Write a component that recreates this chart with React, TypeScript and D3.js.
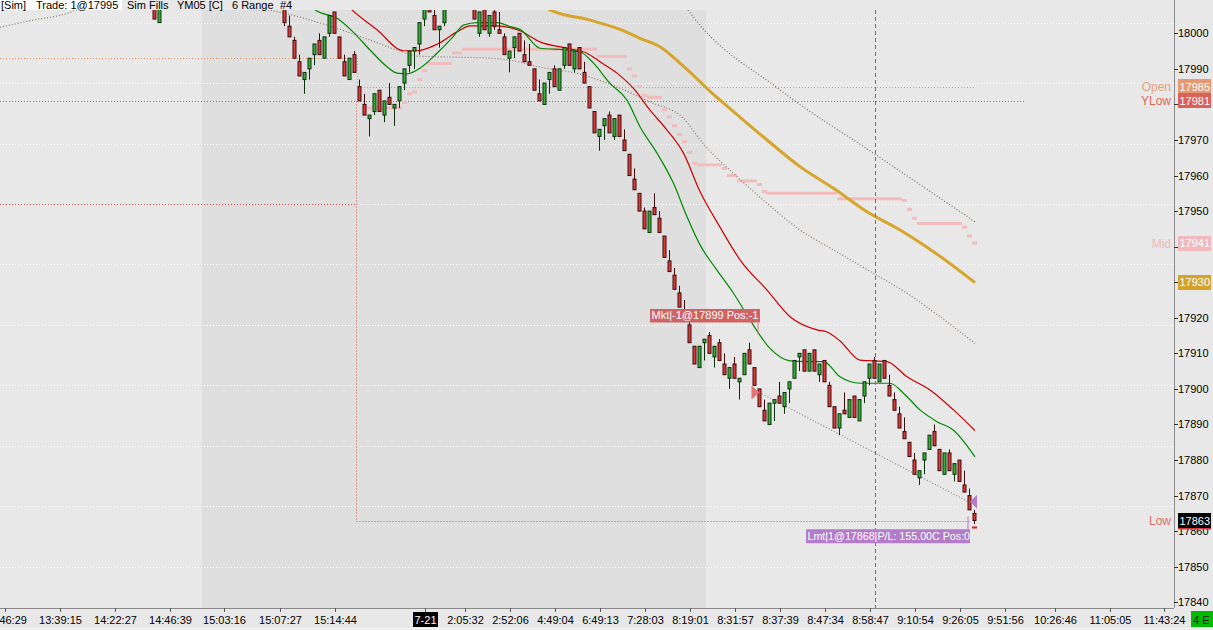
import React from 'react';
import * as d3 from 'd3';

// ---- data (bar index, OHLC) ----
const barIndex = [-26, -25, ...d3.range(0, 139)];
const opens = [18009, 18003,
  18007, 18002, 17998, 17992, 17987, 17990, 17994, 17998, 17993, 18000,
  18006, 17999, 17992, 17987, 17994, 17985, 17980, 17976, 17978, 17984,
  17977, 17982, 17979, 17981, 17986, 17991, 17995, 17997, 18004, 18009,
  18005, 18001, 18003, 18009, 18015, 18017, 18014, 18019, 18010, 18000,
  18007, 18000, 18006, 18001, 17999, 17993, 17996, 18000, 17994, 17992,
  17990, 17983, 17980, 17987, 17990, 17984, 17991, 17997, 17990, 17996,
  17989, 17985, 17978, 17971, 17974, 17977, 17971, 17977, 17970, 17966,
  17959, 17955, 17950, 17944, 17951, 17948, 17943, 17936, 17932, 17927,
  17922, 17918, 17912, 17906, 17913, 17915, 17909, 17913, 17907, 17903,
  17907, 17902, 17904, 17911, 17906, 17900, 17894, 17890, 17896, 17898,
  17895, 17900, 17903, 17909, 17911, 17905, 17911, 17904, 17908, 17901,
  17895, 17889, 17894, 17892, 17898, 17891, 17898, 17903, 17908, 17902,
  17908, 17901, 17897, 17893, 17888, 17885, 17880, 17875, 17880, 17883,
  17888, 17883, 17876, 17882, 17876, 17880, 17873, 17870, 17865];
const highs = [18010, 18009,
  18008, 18005, 17999, 17994, 17989, 17993, 17997, 18000, 17999, 18005,
  18006, 17999, 17994, 17993, 17995, 17987, 17983, 17977, 17983, 17984,
  17981, 17986, 17980, 17985, 17990, 17995, 17996, 18003, 18008, 18012,
  18007, 18002, 18008, 18014, 18018, 18018, 18020, 18019, 18011, 18006,
  18007, 18005, 18007, 18006, 18000, 17995, 17999, 18000, 17998, 17997,
  17990, 17987, 17986, 17989, 17991, 17990, 17996, 17997, 17995, 17996,
  17992, 17985, 17978, 17973, 17976, 17978, 17976, 17977, 17973, 17966,
  17962, 17955, 17951, 17950, 17955, 17950, 17943, 17939, 17934, 17929,
  17925, 17919, 17912, 17912, 17914, 17916, 17912, 17914, 17910, 17906,
  17909, 17903, 17910, 17913, 17906, 17900, 17897, 17896, 17897, 17902,
  17899, 17902, 17908, 17910, 17911, 17910, 17911, 17907, 17908, 17902,
  17895, 17893, 17899, 17897, 17898, 17897, 17902, 17907, 17909, 17907,
  17908, 17904, 17899, 17895, 17892, 17885, 17882, 17877, 17882, 17887,
  17890, 17883, 17882, 17883, 17879, 17880, 17877, 17872, 17866];
const lows = [18004, 18003,
  18002, 17999, 17993, 17988, 17983, 17987, 17991, 17994, 17993, 17999,
  18000, 17993, 17988, 17987, 17989, 17981, 17977, 17971, 17977, 17978,
  17975, 17980, 17974, 17979, 17984, 17989, 17990, 17994, 18002, 18006,
  18001, 17996, 18002, 18008, 18012, 18012, 18014, 18011, 18004, 17999,
  18001, 17999, 18001, 18000, 17994, 17989, 17993, 17995, 17992, 17991,
  17984, 17981, 17980, 17983, 17985, 17984, 17990, 17991, 17989, 17990,
  17986, 17979, 17972, 17967, 17970, 17972, 17970, 17971, 17967, 17960,
  17956, 17950, 17945, 17944, 17949, 17944, 17937, 17933, 17928, 17923,
  17919, 17913, 17907, 17906, 17908, 17910, 17906, 17908, 17904, 17900,
  17903, 17897, 17904, 17907, 17901, 17895, 17891, 17890, 17891, 17896,
  17893, 17896, 17903, 17905, 17905, 17905, 17905, 17902, 17902, 17895,
  17889, 17887, 17893, 17892, 17892, 17891, 17896, 17901, 17903, 17902,
  17903, 17898, 17894, 17889, 17886, 17881, 17876, 17873, 17876, 17883,
  17884, 17877, 17876, 17877, 17874, 17874, 17871, 17866, 17862];
const closes = [18004, 18009,
  18003, 17999, 17993, 17988, 17989, 17993, 17997, 17994, 17999, 18005,
  18000, 17993, 17988, 17993, 17989, 17981, 17977, 17977, 17983, 17978,
  17981, 17980, 17980, 17985, 17990, 17995, 17996, 18003, 18008, 18006,
  18001, 18002, 18008, 18014, 18018, 18012, 18020, 18011, 18004, 18006,
  18001, 18005, 18002, 18000, 17994, 17995, 17999, 17995, 17992, 17991,
  17984, 17981, 17986, 17989, 17985, 17990, 17996, 17991, 17995, 17990,
  17986, 17979, 17972, 17973, 17976, 17972, 17976, 17971, 17967, 17960,
  17956, 17950, 17945, 17950, 17949, 17944, 17937, 17933, 17928, 17923,
  17919, 17913, 17907, 17912, 17914, 17910, 17912, 17908, 17904, 17906,
  17903, 17903, 17910, 17907, 17901, 17895, 17891, 17896, 17897, 17896,
  17899, 17902, 17908, 17910, 17905, 17910, 17905, 17907, 17902, 17895,
  17889, 17893, 17893, 17897, 17892, 17897, 17902, 17907, 17903, 17907,
  17903, 17898, 17894, 17889, 17886, 17881, 17876, 17877, 17882, 17887,
  17884, 17877, 17882, 17877, 17879, 17874, 17871, 17866, 17863];

// indicator lines: [bar, price]
const fastAvg: [number, number][] = [[5.5, 18008], [6.1, 18006.6], [10.5, 18004.2], [13.7, 18000.4], [17.1, 17995.3], [20.5, 17990.6], [22.5, 17988.8], [24.5, 17988.6], [27.1, 17990.2], [30.5, 17994.4], [33.7, 17999], [35.8, 18002.3], [38.5, 18003], [42.5, 18003], [45.1, 18001.9], [47.1, 18001.1], [51.1, 17995.8], [56.5, 17995.3], [59.1, 17994.8], [61.8, 17991.6], [65.1, 17985.9], [68.5, 17981.2], [71.1, 17973.7], [74.5, 17966.3], [77.8, 17957.8], [80.5, 17948.4], [83.1, 17940.5], [86.5, 17933.4], [89.8, 17926.9], [93.1, 17919.4], [97.1, 17911.4], [101.1, 17907.9], [104.5, 17907.7], [107.8, 17907.7], [111.1, 17903.4], [115.1, 17901.6], [121.1, 17901.6], [123.8, 17898.8], [127.1, 17894.1], [130.5, 17890.8], [133.8, 17888.4], [138.1, 17880.9]];
const slowAvg: [number, number][] = [[12.5, 18008], [13.5, 18006.6], [18.5, 18001], [23.8, 17995.1], [26.5, 17995.1], [30.5, 17996.9], [34.5, 18000.4], [37.1, 18002.1], [42.5, 18002.1], [47.1, 18000.7], [51.1, 17997.6], [56.5, 17995.8], [60.5, 17994.4], [63.1, 17992], [66.5, 17988.8], [69.8, 17984.5], [73.1, 17978.4], [76.5, 17972.8], [79.8, 17966.3], [83.1, 17955.5], [87.1, 17945.5], [91.1, 17936.3], [96.5, 17927.8], [101.1, 17920.3], [106.5, 17916.6], [108.5, 17916], [111.1, 17913.5], [115.1, 17908.1], [120.5, 17907.7], [124.5, 17903.4], [129.1, 17899.7], [133.8, 17894.1], [138.1, 17888.3]];
const goldAvg: [number, number][] = [[52, 18008], [53.1, 18006.6], [61.1, 18003.7], [67.5, 18000.9], [71.1, 17998.6], [75.1, 17996.2], [79.1, 17991.6], [83.1, 17986.4], [84.8, 17984.1], [89.8, 17978], [96.5, 17970], [103.1, 17962.5], [109.8, 17956.4], [116.5, 17949.8], [123.1, 17944.7], [129.8, 17938.6], [138.1, 17929.9]];
const midBand: [number, number][] = [[-56.9, 18001.7], [-50.3, 18003.7], [-43.5, 18005.6], [-41.5, 18006.6], [-38, 18007.2], [-14, 18006.8], [-4, 18006.6], [-0.3, 18005.7], [7.1, 18002.9], [17.1, 17998.1], [23.7, 17994.7], [26.5, 17993.6], [33.7, 17993.3], [39.7, 17993.1], [47.1, 17991.9], [49.1, 17991.1], [59.7, 17988.3], [66.5, 17984.9], [73.1, 17980.7], [79.7, 17976.2], [84, 17968.5], [86.5, 17964.9], [89.8, 17960.6], [96.5, 17952.2], [103.1, 17944.7], [109.8, 17939.1], [117.8, 17932.5], [124.5, 17926.9], [131.1, 17920.3], [138.1, 17912.8]];
const upperBand: [number, number][] = [[80, 18008], [80.7, 18006.6], [99.1, 17984.1], [117.8, 17966.3], [138.1, 17947]];
const tradeLine: [number, number][] = [[95, 17899], [137.1, 17868]];

// session mid steps: [fromBar, toBar, price]
const midSteps: [number, number, number][] = [[16, 23, 17979], [24, 24, 17980.5], [25, 25, 17983], [26, 26, 17983.5], [27, 27, 17987], [28, 28, 17989.5], [29, 33, 17991.5], [34, 35, 17994.5], [36, 62, 17995.5], [63, 68, 17993.5], [69, 69, 17990], [70, 70, 17988], [71, 71, 17985], [72, 72, 17982.5], [73, 75, 17982], [76, 76, 17978.5], [77, 77, 17976.5], [78, 78, 17974], [79, 79, 17971.5], [80, 80, 17969.5], [81, 81, 17966.5], [82, 82, 17963.5], [83, 87, 17963], [88, 88, 17962], [89, 90, 17960], [91, 94, 17958.5], [95, 95, 17957.5], [96, 96, 17955.5], [97, 110, 17955], [111, 123, 17953.5], [124, 124, 17953], [125, 125, 17950.5], [126, 126, 17948], [127, 135, 17946.5], [136, 136, 17945.5], [137, 137, 17943], [138, 138, 17941]];

const gridLevels = [18003, 17986, 17969, 17952, 17935, 17918, 17901, 17884, 17867, 17850];
const priceTicks = [17840, 17850, 17860, 17870, 17880, 17890, 17900, 17910, 17920, 17930, 17940, 17950, 17960, 17970, 17980, 17990, 18000];
const timeTickBars = [-56, -45, -34, -23, -12, -1, 10, 28, 36, 45, 54, 63, 72, 81, 90, 99, 108, 117, 126, 135, 144, 154, 165, 176];
const timeTickLabels = ['12:46:29', '13:39:15', '14:22:27', '14:46:39', '15:03:16', '15:07:27', '15:14:44', '7-21', '2:05:32', '2:52:06', '4:49:04', '6:49:13', '7:28:03', '8:19:01', '8:31:57', '8:37:39', '8:47:34', '8:58:47', '9:10:54', '9:26:05', '9:51:56', '10:26:46', '11:05:05', '11:43:24'];

const sessionShade = [-16.5, 84.3];
const sessionBreak = 14.5;
const cursorBar = 118.1;
const openPrev = 17993, openNow = 17985, yLow = 17981, prevLow = 17952, lowNow = 17863;
const entryBar = 95, entryPrice = 17899, exitBar = 137.1, exitPrice = 17868;

const W = 1213, H = 630;
const PR = 1174, PT = 10, PB = 608;
const FONT = '"Liberation Sans", Arial, sans-serif';

const px = (v: number) => Math.round(v) + 0.5;

export default function App() {
  const xs = d3.scaleLinear().domain([0, 138]).range([284.5, 974.5]);
  const ys = d3.scaleLinear().domain([17840, 18000]).range([602.3, 33.3]);
  const line = d3.line<[number, number]>().x(d => xs(d[0])).y(d => ys(d[1])).curve(d3.curveMonotoneX);
  const straight = d3.line<[number, number]>().x(d => xs(d[0])).y(d => ys(d[1]));

  const dotted = '1,2';
  const rightBox = (price: number, fill: string, txt: string, color = '#fff') => (
    <g>
      <rect x={1178} y={Math.round(ys(price) - 7.5)} width={33} height={15} fill={fill} />
      <text x={1179.5} y={ys(price) + 4} fontSize={11} fill={color}>{txt}</text>
    </g>
  );

  const bx = px(xs(sessionBreak - 0.3));

  return (
    <svg width={W} height={H} style={{ position: 'absolute', left: 0, top: 0, fontFamily: FONT }}>
      <defs>
        <clipPath id="plot"><rect x={0} y={PT} width={PR} height={PB - PT} /></clipPath>
      </defs>
      <rect width={W} height={H} fill="#e8e8e8" />
      <rect x={Math.round(xs(sessionShade[0]))} y={PT} width={Math.round(xs(sessionShade[1]) - xs(sessionShade[0]))} height={PB - PT} fill="#dfdfdf" />

      <g clipPath="url(#plot)">
        {gridLevels.map(g => (
          <line key={g} x1={0} x2={PR} y1={px(ys(g))} y2={px(ys(g))} stroke="#fbfbfb" strokeDasharray={dotted} />
        ))}

        {/* open / yesterday low / low levels */}
        <path d={`M0,${px(ys(openPrev))}H${px(xs(sessionBreak))}V${px(ys(openNow))}H${xs(138.2)}`} fill="none" stroke="#ea9460" strokeDasharray={dotted} />
        <line x1={0} x2={xs(148.1)} y1={px(ys(yLow))} y2={px(ys(yLow))} stroke="#d8564a" strokeDasharray={dotted} />
        <path d={`M0,${px(ys(prevLow))}H${bx}M${bx},${px(ys(yLow))}V${px(ys(lowNow))}H${xs(137.3)}`} fill="none" stroke="#d8564a" strokeDasharray={dotted} />

        {midSteps.map((s, i) => (
          <line key={i} x1={xs(s[0]) - 2.5} x2={xs(s[1]) + 2.5} y1={ys(s[2])} y2={ys(s[2])} stroke="#f2bcbd" strokeWidth={3} />
        ))}

        <path d={line(midBand) || ''} fill="none" stroke="#8c7866" strokeWidth={1.2} strokeDasharray={dotted} />
        <path d={line(upperBand) || ''} fill="none" stroke="#7e6d5e" strokeWidth={1.2} strokeDasharray={dotted} />
        <path d={straight(tradeLine) || ''} fill="none" stroke="#8a8a8a" strokeWidth={1.2} strokeDasharray={dotted} />
        <path d={line(goldAvg) || ''} fill="none" stroke="#d6a62c" strokeWidth={3} />
        <path d={line(slowAvg) || ''} fill="none" stroke="#cc0000" strokeWidth={1.2} />
        <path d={line(fastAvg) || ''} fill="none" stroke="#008a00" strokeWidth={1.2} />

        <line x1={px(xs(cursorBar))} x2={px(xs(cursorBar))} y1={PT} y2={PB} stroke="#707070" strokeDasharray="4,3" />

        {barIndex.map((b, i) => {
          const up = closes[i] >= opens[i];
          const cx = xs(b);
          const edge = up ? '#0c300c' : '#3a0c0c';
          const top = ys(Math.max(opens[i], closes[i]));
          const bot = ys(Math.min(opens[i], closes[i]));
          return (
            <g key={b}>
              <line x1={cx} x2={cx} y1={ys(highs[i])} y2={ys(lows[i])} stroke={edge} strokeWidth={1} />
              <rect x={cx - 1.5} y={top} width={3} height={Math.max(1, bot - top)} fill={up ? '#37b037' : '#e23a3a'} stroke={edge} strokeWidth={1} />
            </g>
          );
        })}

        {/* trade markers */}
        <path d={`M${xs(entryBar) - 8},${ys(entryPrice) - 7}L${xs(entryBar)},${ys(entryPrice)}L${xs(entryBar) - 8},${ys(entryPrice) + 7}Z`} fill="#e07474" />
        <path d={`M${xs(exitBar)},${ys(exitPrice) - 1}L${xs(exitBar) + 7},${ys(exitPrice) - 8}L${xs(exitBar) + 7},${ys(exitPrice) + 6}Z`} fill="#b27cca" />
        <rect x={xs(138) - 2.5} y={ys(lowNow) + 6} width={5} height={2} fill="#d02020" />

        <line x1={xs(entryBar) - 1.5} x2={xs(entryBar) - 1.5} y1={ys(entryPrice) - 70} y2={ys(entryPrice) - 58} stroke="#e07a7a" />
        <rect x={xs(entryBar) - 109.5} y={ys(entryPrice) - 83.5} width={110} height={13.5} fill="#d06464" />
        <text x={xs(entryBar) - 108} y={ys(entryPrice) - 73} fontSize={11} fill="#fff">Mkt|-1@17899 Pos:-1</text>

        <line x1={xs(exitBar) - 2} x2={xs(exitBar) - 2} y1={ys(exitPrice) + 14} y2={ys(exitPrice) + 27} stroke="#b27cca" />
        <rect x={xs(exitBar) - 164} y={ys(exitPrice) + 26.5} width={164} height={14} fill="#b27cca" />
        <text x={xs(exitBar) - 162.5} y={ys(exitPrice) + 37.5} fontSize={10.7} fill="#fff">Lmt|1@17868|P/L: 155.00C Pos:0</text>
      </g>

      {/* header */}
      <rect x={0} y={0} width={122} height={10} fill="#ffffff" />
      <g fontSize={11} fill="#000">
        <text x={1} y={9}>[Sim]</text>
        <text x={36} y={9}>Trade: 1@17995</text>
        <text x={127} y={9}>Sim Fills</text>
        <text x={177} y={9}>YM05 [C]</text>
        <text x={232} y={9}>6 Range</text>
        <text x={280} y={9}>#4</text>
      </g>

      {/* right axis */}
      <line x1={PR + 0.5} x2={PR + 0.5} y1={0} y2={PB} stroke="#8a8a8a" />
      {priceTicks.map(p => (
        <g key={p}>
          <line x1={PR} x2={PR + 4} y1={px(ys(p))} y2={px(ys(p))} stroke="#333" />
          <text x={1178} y={ys(p) + 4} fontSize={11} fill="#000">{p}</text>
        </g>
      ))}
      <g fontSize={12} textAnchor="end">
        <text x={1171} y={ys(openNow) + 4.5} fill="#e9a27c">Open</text>
        <text x={1171} y={ys(yLow) + 4.5} fill="#e0655c">YLow</text>
        <text x={1171} y={ys(17941) + 4.5} fill="#f0b8b8">Mid</text>
        <text x={1171} y={ys(lowNow) + 4.5} fill="#e06a6a">Low</text>
      </g>
      {rightBox(openNow, '#e39a72', '17985')}
      {rightBox(yLow, '#d9625a', '17981')}
      {rightBox(17941, '#f1b9bd', '17941')}
      {rightBox(17930, '#d4a32c', '17930')}
      {rightBox(lowNow, '#000000', '17863')}
      <rect x={1178} y={Math.round(ys(lowNow) + 7.5)} width={33} height={1.5} fill="#d03a3a" />

      {/* bottom axis */}
      <line x1={0} x2={PR} y1={PB + 0.5} y2={PB + 0.5} stroke="#8a8a8a" />
      <line x1={0} x2={W} y1={628.5} y2={628.5} stroke="#f6f6f6" />
      {timeTickBars.map((b, i) => {
        const x = px(xs(b));
        const lbl = timeTickLabels[i];
        const isDate = lbl === '7-21';
        return (
          <g key={b}>
            <line x1={x} x2={x} y1={PB} y2={PB + 4} stroke="#555" />
            {isDate && <rect x={x - 12.5} y={612} width={25} height={15} fill="#000" />}
            <text x={x} y={624} fontSize={11} textAnchor="middle" fill={isDate ? '#fff' : '#000'}>{lbl}</text>
          </g>
        );
      })}
      <rect x={1191} y={611} width={22} height={16} fill="#00bb00" />
      <text x={1193} y={624} fontSize={11} fill="#111">4 E</text>
    </svg>
  );
}
